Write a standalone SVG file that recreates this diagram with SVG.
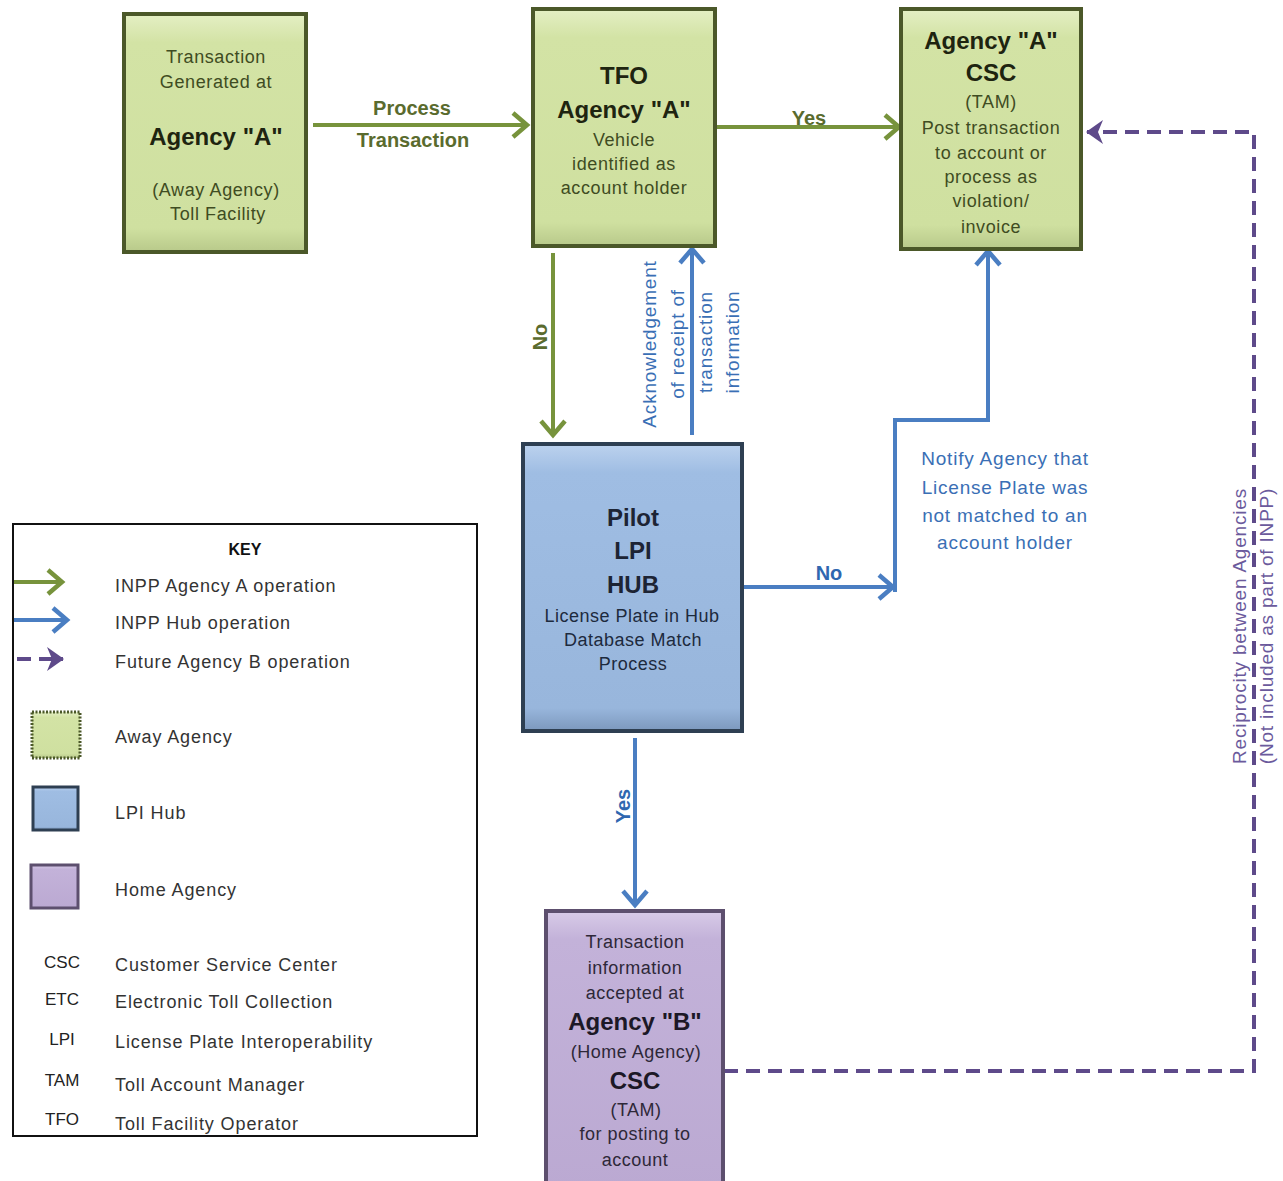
<svg xmlns="http://www.w3.org/2000/svg" width="1283" height="1181" viewBox="0 0 1283 1181">
<style>
text{font-family:"Liberation Sans",Arial,sans-serif;text-anchor:middle}
.g{fill:#3f4c22;font-size:18px;letter-spacing:0.6px}
.gb{fill:#1e2410;font-size:24px;font-weight:bold}
.h{fill:#1d2a3d;font-size:18px;letter-spacing:0.5px}
.hb{fill:#1d2434;font-size:24px;font-weight:bold}
.p{fill:#2e2838;font-size:18px;letter-spacing:0.5px}
.pb{fill:#1c1826;font-size:24px;font-weight:bold}
.lg{fill:#5a6b2e;font-size:20px;font-weight:bold}
.lb{fill:#2f67b0;font-size:20px;font-weight:bold}
.nb{fill:#3a6fb5;font-size:19px;letter-spacing:0.8px}
.r{fill:#6b5a9c;font-size:19px;letter-spacing:0.8px}
.k{fill:#333;font-size:18px;letter-spacing:0.9px;text-anchor:start}
.ka{fill:#222;font-size:17px}
.gl{stroke:#77933c;stroke-width:4;fill:none}
.bl{stroke:#4a7ec2;stroke-width:4;fill:none}
.pl{stroke:#5e4a8a;stroke-width:4;fill:none;stroke-dasharray:14 8}
</style>
<defs>
<linearGradient id="gg" x1="0" y1="0" x2="0" y2="1"><stop offset="0" stop-color="#e4efc4"/><stop offset="0.12" stop-color="#d3e3a5"/><stop offset="0.9" stop-color="#cfe0a0"/><stop offset="1" stop-color="#b8c98a"/></linearGradient>
<linearGradient id="bg" x1="0" y1="0" x2="0" y2="1"><stop offset="0" stop-color="#bcd2ee"/><stop offset="0.1" stop-color="#9fbde3"/><stop offset="0.92" stop-color="#98b6dc"/><stop offset="1" stop-color="#7c98bd"/></linearGradient>
<linearGradient id="pg" x1="0" y1="0" x2="0" y2="1"><stop offset="0" stop-color="#d8cbe8"/><stop offset="0.1" stop-color="#c3b2d9"/><stop offset="1" stop-color="#bba9d2"/></linearGradient>
<marker id="ag" markerUnits="userSpaceOnUse" markerWidth="30" markerHeight="30" viewBox="0 0 30 30" refX="26" refY="15" orient="auto"><path d="M12,3 L26,15 L12,27" stroke="#77933c" stroke-width="4.5" fill="none"/></marker>
<marker id="ab" markerUnits="userSpaceOnUse" markerWidth="30" markerHeight="30" viewBox="0 0 30 30" refX="26" refY="15" orient="auto"><path d="M12,3 L26,15 L12,27" stroke="#4a7ec2" stroke-width="4.5" fill="none"/></marker>
<marker id="ap" markerUnits="userSpaceOnUse" markerWidth="30" markerHeight="30" viewBox="0 0 30 30" refX="26" refY="15" orient="auto"><path d="M10,3 L27,15 L10,27 L15,15 Z" fill="#5e4a8a"/></marker>
</defs>
<rect width="1283" height="1181" fill="#fff"/>

<g id="connectors">
<line class="gl" x1="313" y1="125" x2="527" y2="125" marker-end="url(#ag)"/>
<text class="lg" x="412" y="115">Process</text>
<text class="lg" x="413" y="147">Transaction</text>
<line class="gl" x1="717" y1="127" x2="899" y2="127" marker-end="url(#ag)"/>
<text class="lg" x="809" y="125">Yes</text>
<line class="gl" x1="553" y1="253" x2="553" y2="435" marker-end="url(#ag)"/>
<text class="lg" transform="translate(547,337) rotate(-90)">No</text>
<line class="bl" x1="692" y1="435" x2="692" y2="249" marker-end="url(#ab)"/>
<text class="nb" transform="translate(656,344) rotate(-90)">Acknowledgement</text>
<text class="nb" transform="translate(684,344) rotate(-90)">of receipt of</text>
<text class="nb" transform="translate(712,342) rotate(-90)">transaction</text>
<text class="nb" transform="translate(739,342) rotate(-90)">information</text>
<line class="bl" x1="743" y1="587" x2="893" y2="587" marker-end="url(#ab)"/>
<text class="lb" x="829" y="580">No</text>
<polyline class="bl" points="895,592 895,420 988,420 988,251" marker-end="url(#ab)"/>
<text class="nb" x="1005" y="465">Notify Agency that</text>
<text class="nb" x="1005" y="494">License Plate was</text>
<text class="nb" x="1005" y="522">not matched to an</text>
<text class="nb" x="1005" y="549">account holder</text>
<line class="bl" x1="635" y1="738" x2="635" y2="905" marker-end="url(#ab)"/>
<text class="lb" transform="translate(630,806) rotate(-90)">Yes</text>
<polyline class="pl" points="724,1071 1254,1071 1254,132 1087,132" marker-end="url(#ap)"/>
<text class="r" transform="translate(1246,626) rotate(-90)">Reciprocity between Agencies</text>
<text class="r" transform="translate(1273,626) rotate(-90)">(Not included as part of INPP)</text>
</g>

<g id="node-away">
<rect x="124" y="14" width="182" height="238" fill="url(#gg)" stroke="#4b5829" stroke-width="4"/>
<text class="g" x="216" y="63">Transaction</text>
<text class="g" x="216" y="88">Generated at</text>
<text class="gb" x="216" y="145">Agency "A"</text>
<text class="g" x="216" y="196">(Away Agency)</text>
<text class="g" x="218" y="220">Toll Facility</text>
</g>

<g id="node-tfo">
<rect x="533" y="9" width="182" height="237" fill="url(#gg)" stroke="#4b5829" stroke-width="4"/>
<text class="gb" x="624" y="84">TFO</text>
<text class="gb" x="624" y="118">Agency "A"</text>
<text class="g" x="624" y="146">Vehicle</text>
<text class="g" x="624" y="170">identified as</text>
<text class="g" x="624" y="194">account holder</text>
</g>

<g id="node-csc-a">
<rect x="901" y="9" width="180" height="240" fill="url(#gg)" stroke="#4b5829" stroke-width="4"/>
<text class="gb" x="991" y="49">Agency "A"</text>
<text class="gb" x="991" y="81">CSC</text>
<text class="g" x="991" y="108" font-size="17">(TAM)</text>
<text class="g" x="991" y="134">Post transaction</text>
<text class="g" x="991" y="159">to account or</text>
<text class="g" x="991" y="183">process as</text>
<text class="g" x="991" y="207">violation/</text>
<text class="g" x="991" y="233">invoice</text>
</g>

<g id="node-hub">
<rect x="523" y="444" width="219" height="287" fill="url(#bg)" stroke="#2e3f52" stroke-width="4"/>
<text class="hb" x="633" y="526">Pilot</text>
<text class="hb" x="633" y="559">LPI</text>
<text class="hb" x="633" y="593">HUB</text>
<text class="h" x="632" y="622">License Plate in Hub</text>
<text class="h" x="633" y="646">Database Match</text>
<text class="h" x="633" y="670">Process</text>
</g>

<g id="node-agency-b">
<rect x="546" y="911" width="177" height="280" fill="url(#pg)" stroke="#5d4f6e" stroke-width="4"/>
<text class="p" x="635" y="948">Transaction</text>
<text class="p" x="635" y="974">information</text>
<text class="p" x="635" y="999">accepted at</text>
<text class="pb" x="635" y="1030">Agency "B"</text>
<text class="p" x="636" y="1058">(Home Agency)</text>
<text class="pb" x="635" y="1089">CSC</text>
<text class="p" x="636" y="1116">(TAM)</text>
<text class="p" x="635" y="1140">for posting to</text>
<text class="p" x="635" y="1166">account</text>
</g>

<g id="key">
<rect x="13" y="524" width="464" height="612" fill="#fff" stroke="#111" stroke-width="2"/>
<text x="245" y="555" font-size="16" font-weight="bold" fill="#111">KEY</text>
<line class="gl" x1="14" y1="582" x2="62" y2="582" marker-end="url(#ag)"/>
<line class="bl" x1="14" y1="620" x2="67" y2="620" marker-end="url(#ab)"/>
<line class="pl" x1="17" y1="659" x2="63" y2="659" stroke-dasharray="14 9" marker-end="url(#ap)"/>
<text class="k" x="115" y="592">INPP Agency A operation</text>
<text class="k" x="115" y="629">INPP Hub operation</text>
<text class="k" x="115" y="668">Future Agency B operation</text>
<rect x="32" y="712" width="48" height="46" fill="url(#gg)" stroke="#4b5829" stroke-width="3" stroke-dasharray="2 1.5"/>
<text class="k" x="115" y="743">Away Agency</text>
<rect x="33" y="787" width="45" height="43" fill="url(#bg)" stroke="#2e3f52" stroke-width="3"/>
<text class="k" x="115" y="819">LPI Hub</text>
<rect x="31" y="865" width="47" height="43" fill="url(#pg)" stroke="#5d4f6e" stroke-width="3"/>
<text class="k" x="115" y="896">Home Agency</text>
<text class="ka" x="62" y="968">CSC</text>
<text class="k" x="115" y="971">Customer Service Center</text>
<text class="ka" x="62" y="1005">ETC</text>
<text class="k" x="115" y="1008">Electronic Toll Collection</text>
<text class="ka" x="62" y="1045">LPI</text>
<text class="k" x="115" y="1048">License Plate Interoperability</text>
<text class="ka" x="62" y="1086">TAM</text>
<text class="k" x="115" y="1091">Toll Account Manager</text>
<text class="ka" x="62" y="1125">TFO</text>
<text class="k" x="115" y="1130">Toll Facility Operator</text>
</g>
</svg>
